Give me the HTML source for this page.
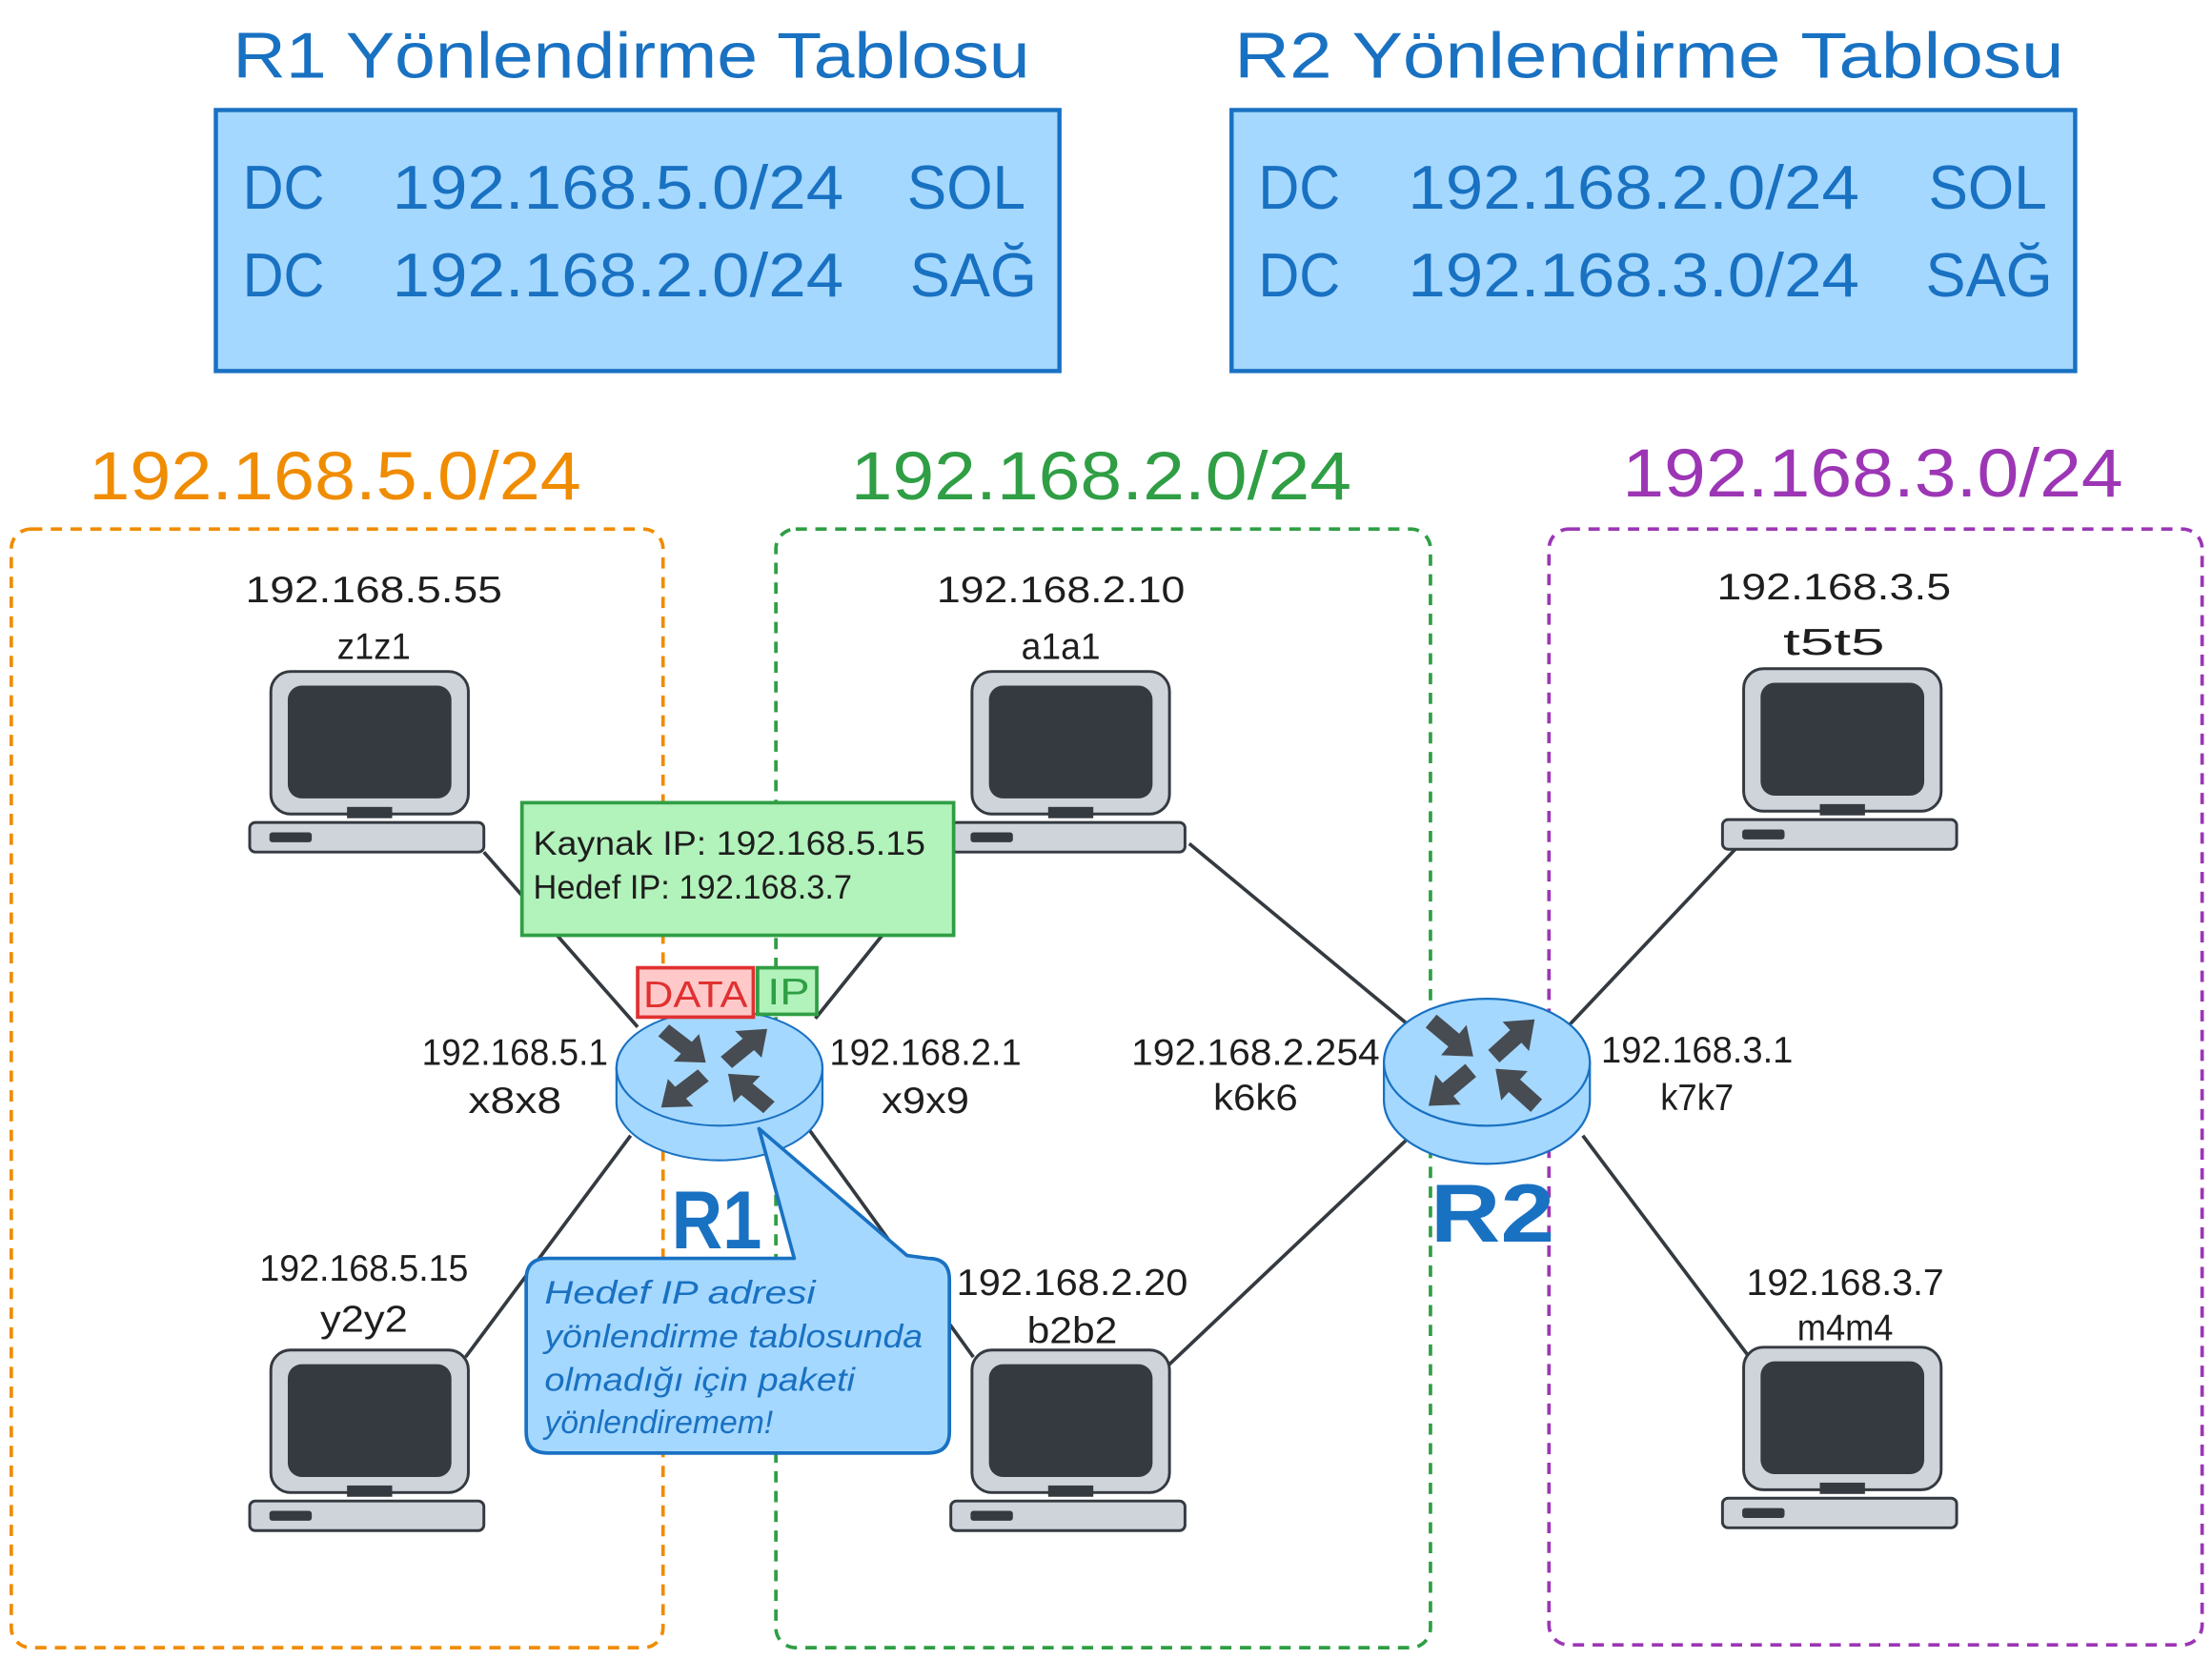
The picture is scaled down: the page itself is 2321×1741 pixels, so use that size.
<!DOCTYPE html>
<html><head><meta charset="utf-8"><style>html,body{margin:0;padding:0;background:#fff}svg{display:block}</style></head>
<body>
<svg width="2321" height="1741" viewBox="0 0 1568 1176" preserveAspectRatio="none" xmlns="http://www.w3.org/2000/svg" font-family="Liberation Sans, sans-serif">
<defs>
<g id="pc">
<rect x="0" y="0" width="140" height="101" rx="14" fill="#ced4da" stroke="#343a40" stroke-width="2"/>
<rect x="12" y="10" width="116" height="80" rx="10" fill="#343a40"/>
<rect x="54" y="96" width="32" height="8" fill="#343a40"/>
<rect x="-15" y="107" width="166" height="21" rx="4" fill="#ced4da" stroke="#343a40" stroke-width="2"/>
<rect x="-1" y="114" width="30" height="7" rx="2" fill="#343a40"/>
</g>
<polygon id="arr" points="-19,-6 2,-6 2,-14 20,0 2,14 2,6 -19,6" fill="#474c52"/>
<g id="router">
<path d="M-73,0 L-73,27 A73,45 0 0 0 73,27 L73,0 Z" fill="#a5d8ff" stroke="#1971c2" stroke-width="1.5"/>
<ellipse cx="0" cy="0" rx="73" ry="45" fill="#a5d8ff" stroke="#1971c2" stroke-width="1.5"/>
<use href="#arr" transform="translate(-25,-17) rotate(40)"/>
<use href="#arr" transform="translate(19,-17) rotate(-42)"/>
<use href="#arr" transform="translate(-26,18) rotate(140)"/>
<use href="#arr" transform="translate(21,18) rotate(-138)"/>
</g>
</defs>

<g fill="#1971c2" font-size="46">
<text x="165" y="55" textLength="565" lengthAdjust="spacingAndGlyphs">R1 Yönlendirme Tablosu</text>
<text x="875" y="55" textLength="588" lengthAdjust="spacingAndGlyphs">R2 Yönlendirme Tablosu</text>
</g>
<rect x="153" y="78" width="598" height="185" fill="#a5d8ff" stroke="#1971c2" stroke-width="3"/>
<rect x="873" y="78" width="598" height="185" fill="#a5d8ff" stroke="#1971c2" stroke-width="3"/>
<g fill="#1971c2" font-size="44">
<text x="172" y="148" textLength="58" lengthAdjust="spacingAndGlyphs">DC</text>
<text x="278" y="148" textLength="320" lengthAdjust="spacingAndGlyphs">192.168.5.0/24</text>
<text x="643" y="148" textLength="84" lengthAdjust="spacingAndGlyphs">SOL</text>
<text x="172" y="210" textLength="58" lengthAdjust="spacingAndGlyphs">DC</text>
<text x="278" y="210" textLength="320" lengthAdjust="spacingAndGlyphs">192.168.2.0/24</text>
<text x="645" y="210" textLength="90" lengthAdjust="spacingAndGlyphs">SAĞ</text>
<text x="892" y="148" textLength="58" lengthAdjust="spacingAndGlyphs">DC</text>
<text x="998" y="148" textLength="320" lengthAdjust="spacingAndGlyphs">192.168.2.0/24</text>
<text x="1367" y="148" textLength="84" lengthAdjust="spacingAndGlyphs">SOL</text>
<text x="892" y="210" textLength="58" lengthAdjust="spacingAndGlyphs">DC</text>
<text x="998" y="210" textLength="320" lengthAdjust="spacingAndGlyphs">192.168.3.0/24</text>
<text x="1365" y="210" textLength="90" lengthAdjust="spacingAndGlyphs">SAĞ</text>
</g>

<g font-size="48">
<text x="63" y="354" fill="#f08c00" textLength="349" lengthAdjust="spacingAndGlyphs">192.168.5.0/24</text>
<text x="603" y="354" fill="#2f9e44" textLength="355" lengthAdjust="spacingAndGlyphs">192.168.2.0/24</text>
<text x="1150" y="352" fill="#9c36b5" textLength="355" lengthAdjust="spacingAndGlyphs">192.168.3.0/24</text>
</g>

<g fill="none" stroke-width="2.5" stroke-dasharray="8 6">
<rect x="8" y="375" width="462" height="793" rx="14" stroke="#f08c00"/>
<rect x="550" y="375" width="464" height="793" rx="14" stroke="#2f9e44"/>
<rect x="1098" y="375" width="463" height="791" rx="14" stroke="#9c36b5"/>
</g>

<g stroke="#343a40" stroke-width="2.5">
<line x1="343" y1="604" x2="452" y2="728"/>
<line x1="330" y1="962" x2="447" y2="805"/>
<line x1="676" y1="600" x2="578" y2="722"/>
<line x1="573" y1="800" x2="690" y2="962"/>
<line x1="843" y1="598" x2="999" y2="727"/>
<line x1="828" y1="968" x2="997" y2="808"/>
<line x1="1230" y1="602" x2="1112" y2="727"/>
<line x1="1240" y1="962" x2="1122" y2="805"/>
</g>

<use href="#pc" x="192" y="476"/>
<use href="#pc" x="689" y="476"/>
<use href="#pc" x="1236" y="474"/>
<use href="#pc" x="192" y="957"/>
<use href="#pc" x="689" y="957"/>
<use href="#pc" x="1236" y="955"/>

<g fill="#1e1e1e" font-size="26" text-anchor="middle">
<text x="265" y="427" textLength="182" lengthAdjust="spacingAndGlyphs">192.168.5.55</text>
<text x="265" y="467" textLength="52" lengthAdjust="spacingAndGlyphs">z1z1</text>
<text x="752" y="427" textLength="176" lengthAdjust="spacingAndGlyphs">192.168.2.10</text>
<text x="752" y="467" textLength="56" lengthAdjust="spacingAndGlyphs">a1a1</text>
<text x="1300" y="425" textLength="166" lengthAdjust="spacingAndGlyphs">192.168.3.5</text>
<text x="1300" y="464" textLength="72" lengthAdjust="spacingAndGlyphs">t5t5</text>
<text x="258" y="908" textLength="148" lengthAdjust="spacingAndGlyphs">192.168.5.15</text>
<text x="258" y="944" textLength="62" lengthAdjust="spacingAndGlyphs">y2y2</text>
<text x="760" y="918" textLength="164" lengthAdjust="spacingAndGlyphs">192.168.2.20</text>
<text x="760" y="952" textLength="64" lengthAdjust="spacingAndGlyphs">b2b2</text>
<text x="1308" y="918" textLength="140" lengthAdjust="spacingAndGlyphs">192.168.3.7</text>
<text x="1308" y="950" textLength="68" lengthAdjust="spacingAndGlyphs">m4m4</text>
<text x="365" y="755" textLength="132" lengthAdjust="spacingAndGlyphs">192.168.5.1</text>
<text x="365" y="789" textLength="66" lengthAdjust="spacingAndGlyphs">x8x8</text>
<text x="656" y="755" textLength="136" lengthAdjust="spacingAndGlyphs">192.168.2.1</text>
<text x="656" y="789" textLength="62" lengthAdjust="spacingAndGlyphs">x9x9</text>
<text x="890" y="755" textLength="176" lengthAdjust="spacingAndGlyphs">192.168.2.254</text>
<text x="890" y="787" textLength="60" lengthAdjust="spacingAndGlyphs">k6k6</text>
<text x="1203" y="753" textLength="136" lengthAdjust="spacingAndGlyphs">192.168.3.1</text>
<text x="1203" y="787" textLength="52" lengthAdjust="spacingAndGlyphs">k7k7</text>
</g>

<use href="#router" transform="translate(510,757) scale(1,0.91)"/>
<use href="#router" x="1054" y="753"/>
<g fill="#1971c2" font-size="58" font-weight="bold">
<text x="476" y="885" textLength="64" lengthAdjust="spacingAndGlyphs">R1</text>
<text x="1014" y="880" textLength="88" lengthAdjust="spacingAndGlyphs">R2</text>
</g>

<rect x="370" y="569" width="306" height="94" fill="#b2f2bb" stroke="#2f9e44" stroke-width="2.5"/>
<g fill="#1e1e1e" font-size="24">
<text x="378" y="606" textLength="278" lengthAdjust="spacingAndGlyphs">Kaynak IP: 192.168.5.15</text>
<text x="378" y="637" textLength="226" lengthAdjust="spacingAndGlyphs">Hedef IP: 192.168.3.7</text>
</g>
<rect x="452" y="686" width="82" height="35" fill="#ffc9c9" stroke="#e03131" stroke-width="2.5"/>
<text x="456" y="714" fill="#e03131" font-size="26" textLength="74" lengthAdjust="spacingAndGlyphs">DATA</text>
<rect x="537" y="686" width="42" height="33" fill="#b2f2bb" stroke="#2f9e44" stroke-width="2.5"/>
<text x="544" y="712" fill="#2f9e44" font-size="26" textLength="30" lengthAdjust="spacingAndGlyphs">IP</text>

<path d="M538,800 L643,890 L658,892 Q673,892 673,907 L673,1015 Q673,1030 658,1030 L388,1030 Q373,1030 373,1015 L373,907 Q373,892 388,892 L563,892 Z" fill="#a5d8ff" stroke="#1971c2" stroke-width="2.5" stroke-linejoin="round"/>
<g fill="#1971c2" font-size="23" font-style="italic">
<text x="386" y="924" textLength="192" lengthAdjust="spacingAndGlyphs">Hedef IP adresi</text>
<text x="386" y="955" textLength="268" lengthAdjust="spacingAndGlyphs">yönlendirme tablosunda</text>
<text x="386" y="986" textLength="220" lengthAdjust="spacingAndGlyphs">olmadığı için paketi</text>
<text x="386" y="1016" textLength="162" lengthAdjust="spacingAndGlyphs">yönlendiremem!</text>
</g>
</svg>
</body></html>
